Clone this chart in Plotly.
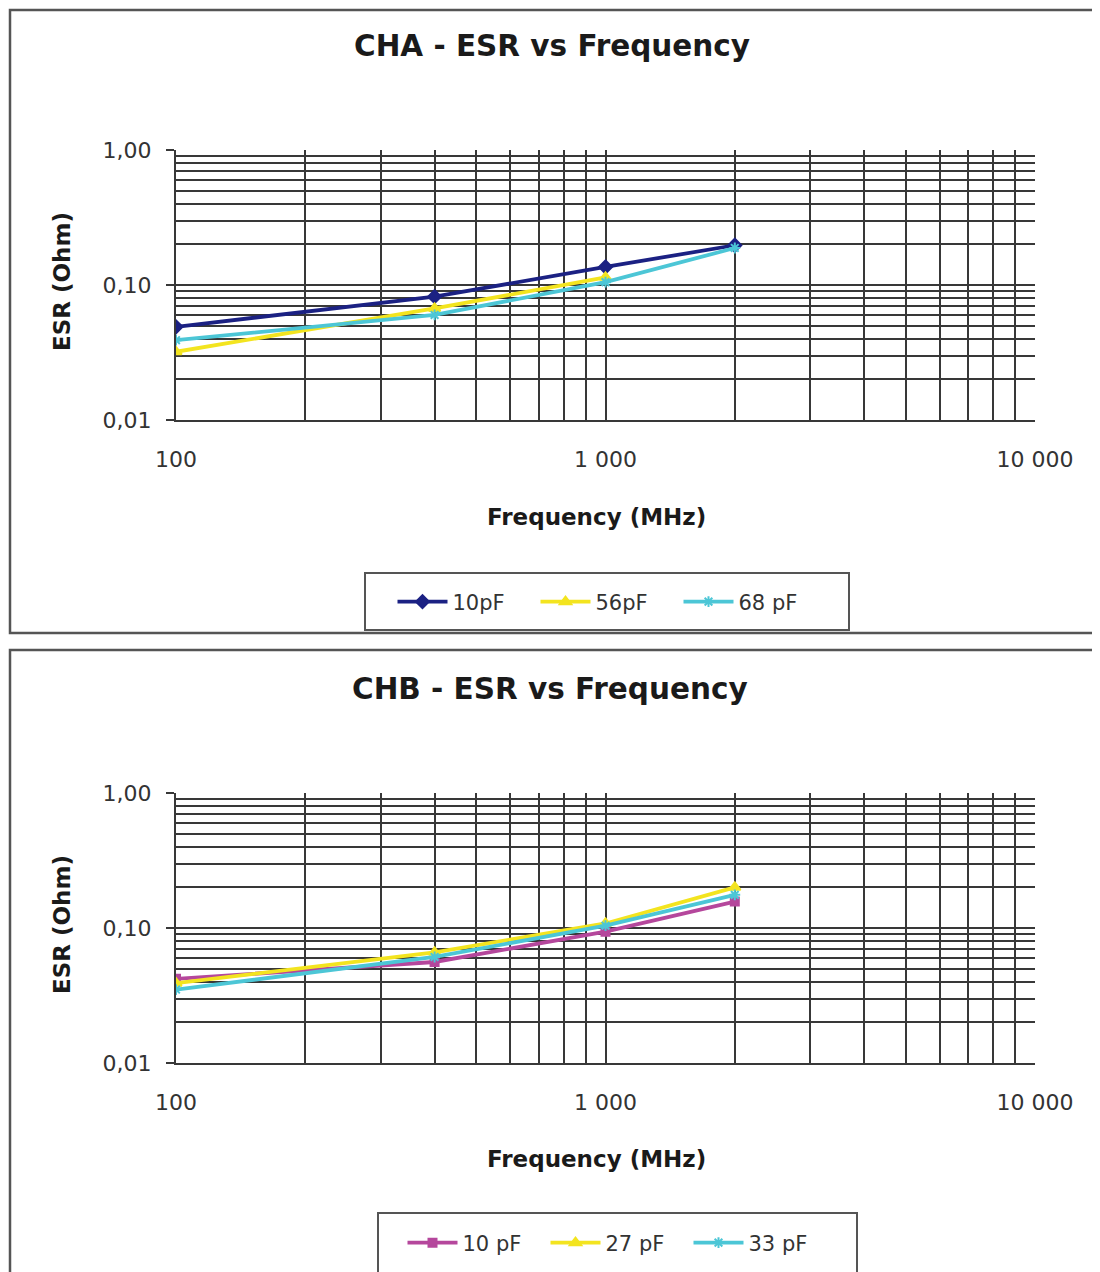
import plotly.graph_objects as go

W, H = 1100, 1272
OFF = 8  # page body margin

# ---------------- data ----------------
freq = [100, 400, 1000, 2000]          # MHz
freq_a_56 = [100, 400, 1000]

cha_10pF = [0.049, 0.082, 0.136, 0.197]
cha_56pF = [0.032, 0.067, 0.114]
cha_68pF = [0.039, 0.060, 0.105, 0.188]

chb_10pF = [0.042, 0.056, 0.094, 0.157]
chb_27pF = [0.039, 0.066, 0.108, 0.200]
chb_33pF = [0.035, 0.061, 0.104, 0.176]

x_tickvals = [100, 1000, 10000]
x_ticktext = ["100", "1 000", "10 000"]
y_tickvals = [0.01, 0.1, 1.0]
y_ticktext = ["0,01", "0,10", "1,00"]

x_minor = [m * d for d in (100, 1000) for m in range(1, 10)] + [10000]
y_minor = [m * d for d in (0.01, 0.1) for m in range(1, 10)] + [1.0]

FONT = "DejaVu Sans"
NAVY = "#1b2183"
YEL = "#f3e41f"
CYAN = "#4cc6d6"
MAG = "#b5479c"


def px_x(p):
    return (p - OFF) / W


def px_y(p):
    return 1 - (p - OFF) / H


fig = go.Figure()

def add(x, y, name, color, symbol, xa, ya, legend, msize=9):
    fig.add_trace(go.Scatter(
        x=x, y=y, name=name, mode="lines+markers",
        line=dict(color=color, width=3.8),
        marker=dict(symbol=symbol, size=msize, color=color,
                    line=dict(color=color, width=2)),
        xaxis=xa, yaxis=ya, legend=legend))

add(freq, cha_10pF, "10pF", NAVY, "diamond", "x", "y", "legend", 10)
add(freq_a_56, cha_56pF, "56pF", YEL, "triangle-up", "x", "y", "legend", 10)
add(freq, cha_68pF, "68 pF", CYAN, "asterisk", "x", "y", "legend", 9)

add(freq, chb_10pF, "10 pF", MAG, "square", "x2", "y2", "legend2", 8)
add(freq, chb_27pF, "27 pF", YEL, "triangle-up", "x2", "y2", "legend2", 10)
add(freq, chb_33pF, "33 pF", CYAN, "asterisk", "x2", "y2", "legend2", 9)

GRID = "#383838"
tickfont = dict(family=FONT, size=22, color="#333333")

def xaxis(anchor):
    return dict(type="log", range=[2, 4], domain=[px_x(176), px_x(1035)],
                anchor=anchor, tickmode="array", tickvals=x_tickvals,
                ticktext=x_ticktext, tickfont=tickfont, showgrid=False,
                ticks="", ticklabelstandoff=19, automargin=False,
                showline=True, linecolor=GRID, linewidth=2,
                minor=dict(tickmode="array", tickvals=x_minor, showgrid=True,
                           gridcolor=GRID, gridwidth=1.9, ticks=""),
                zeroline=False, fixedrange=True)

def yaxis(anchor, top, bottom):
    return dict(type="log", range=[-2, 0], domain=[px_y(bottom), px_y(top)],
                anchor=anchor, tickmode="array", tickvals=y_tickvals,
                ticktext=y_ticktext, tickfont=tickfont, showgrid=False,
                ticks="outside", ticklen=8, tickwidth=2, tickcolor=GRID,
                ticklabelstandoff=10, automargin=False,
                showline=True, linecolor=GRID, linewidth=2,
                minor=dict(tickmode="array", tickvals=y_minor, showgrid=True,
                           gridcolor=GRID, gridwidth=1.9, ticks=""),
                zeroline=False, fixedrange=True)

title_font = dict(family=FONT, size=29.5, color="#1a1a1a")
lab_font = dict(family=FONT, size=23, color="#1a1a1a")

annotations = []
for cx, cy, txt, f in [
    (552, 46, "<b>CHA - ESR vs Frequency</b>", title_font),
    (550, 689, "<b>CHB - ESR vs Frequency</b>", title_font),
    (596, 517, "<b>Frequency (MHz)</b>", lab_font),
    (596, 1159, "<b>Frequency (MHz)</b>", lab_font),
]:
    annotations.append(dict(x=px_x(cx), y=px_y(cy), xref="paper", yref="paper",
                            text=txt, showarrow=False, font=f,
                            xanchor="center", yanchor="middle"))
for cy in (282, 925):
    annotations.append(dict(x=px_x(62), y=px_y(cy), xref="paper", yref="paper",
                            text="<b>ESR (Ohm)</b>", showarrow=False,
                            font=lab_font, textangle=-90,
                            xanchor="center", yanchor="middle"))

FRAME = "#555555"
def rect(x0, y0, x1, y1, width=2.5, fill="rgba(0,0,0,0)", layer="below"):
    return dict(type="rect", xref="paper", yref="paper",
                x0=px_x(x0), x1=px_x(x1), y0=px_y(y1), y1=px_y(y0),
                line=dict(color=FRAME, width=width), fillcolor=fill, layer=layer)

shapes = [
    rect(10, 10, 1120, 633),
    rect(10, 650, 1120, 1300),
    rect(365, 573, 849, 630, 2, "white"),
    rect(378, 1213, 857, 1300, 2, "white"),
]

legfont = dict(family=FONT, size=21, color="#333333")
def legend(cx, cy):
    return dict(orientation="h", x=px_x(cx), y=px_y(cy), xanchor="center",
                yanchor="middle", xref="container", yref="container",
                bgcolor="rgba(0,0,0,0)", borderwidth=0,
                font=legfont, entrywidth=78, entrywidthmode="pixels",
                itemwidth=50, tracegroupgap=0)

fig.update_layout(
    width=W, height=H, margin=dict(l=0, r=0, t=0, b=0, pad=0, autoexpand=False),
    paper_bgcolor="white", plot_bgcolor="white",
    xaxis=xaxis("y"), yaxis=yaxis("x", 150, 420),
    xaxis2=xaxis("y2"), yaxis2=yaxis("x2", 793, 1063),
    annotations=annotations, shapes=shapes,
    legend=legend(607, 602), legend2=legend(617, 1243),
    showlegend=True,
)

fig.write_html("out.html")
